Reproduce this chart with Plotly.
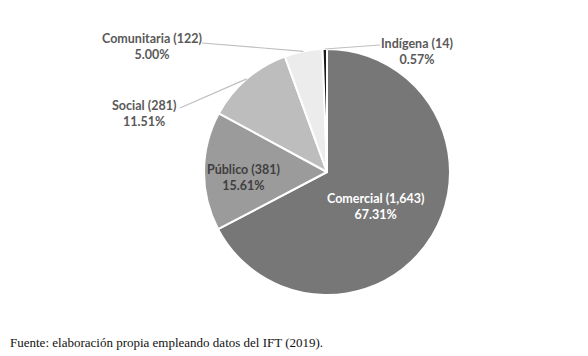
import math
import plotly.graph_objects as go

categories = ["Comercial", "Público", "Social", "Comunitaria", "Indígena"]
values = [1643, 381, 281, 122, 14]
percent_labels = ["67.31%", "15.61%", "11.51%", "5.00%", "0.57%"]
colors = ["#777777", "#9b9b9b", "#bdbdbd", "#ececec", "#1a1a1a"]

W, H = 588, 356
OFF = 8  # page body margin in the browser
cx, cy, r = 327 - OFF, 172 - OFF, 123

fig = go.Figure(go.Pie(
    labels=categories,
    values=values,
    sort=False,
    direction="clockwise",
    rotation=0,
    marker=dict(colors=colors, line=dict(color="white", width=2)),
    textinfo="none",
    hoverinfo="label+value+percent",
    showlegend=False,
    domain=dict(x=[(cx - r) / W, (cx + r) / W], y=[(H - cy - r) / H, (H - cy + r) / H]),
))

def px(x):
    return (x - OFF) / W

def py(y):
    return 1 - (y - OFF) / H

# label centres in screen pixels and text colours
label_pos = {
    "Comercial": (375, 206, "white"),
    "Público": (243, 178, "#404040"),
    "Social": (144, 113, "#595959"),
    "Comunitaria": (152, 46, "#595959"),
    "Indígena": (417, 51, "#595959"),
}
# leader line start points (text side), in screen pixels
leader_start = {
    "Social": (180, 108),
    "Comunitaria": (202, 43),
    "Indígena": (380, 45),
}

total = sum(values)
cum = 0
annotations = []
shapes = []
for cat, v, pct in zip(categories, values, percent_labels):
    mid = (cum + v / 2) / total * 2 * math.pi
    cum += v
    ex = cx + r * math.sin(mid)
    ey = cy - r * math.cos(mid)
    x, y, col = label_pos[cat]
    annotations.append(dict(
        x=px(x), y=py(y), xref="paper", yref="paper",
        xanchor="center", yanchor="middle",
        text=f"<b>{cat} ({v:,})<br>{pct}</b>",
        showarrow=False, align="center",
        font=dict(family="Lato", size=12.5, color=col),
    ))
    if cat in leader_start:
        sx, sy = leader_start[cat]
        shapes.append(dict(
            type="line", xref="paper", yref="paper",
            x0=px(sx), y0=py(sy), x1=ex / W, y1=1 - ey / H,
            line=dict(color="#bfbfbf", width=1.2),
        ))

annotations.append(dict(
    x=px(8), y=py(342), xref="paper", yref="paper",
    xanchor="left", yanchor="middle",
    text="Fuente: elaboración propia empleando datos del IFT (2019).",
    showarrow=False, font=dict(family="Liberation Serif", size=13, color="#111111"),
))

fig.update_layout(
    width=W, height=H,
    margin=dict(l=0, r=0, t=0, b=0),
    paper_bgcolor="white",
    plot_bgcolor="white",
    annotations=annotations,
    shapes=shapes,
)

fig.write_html("out.html")
